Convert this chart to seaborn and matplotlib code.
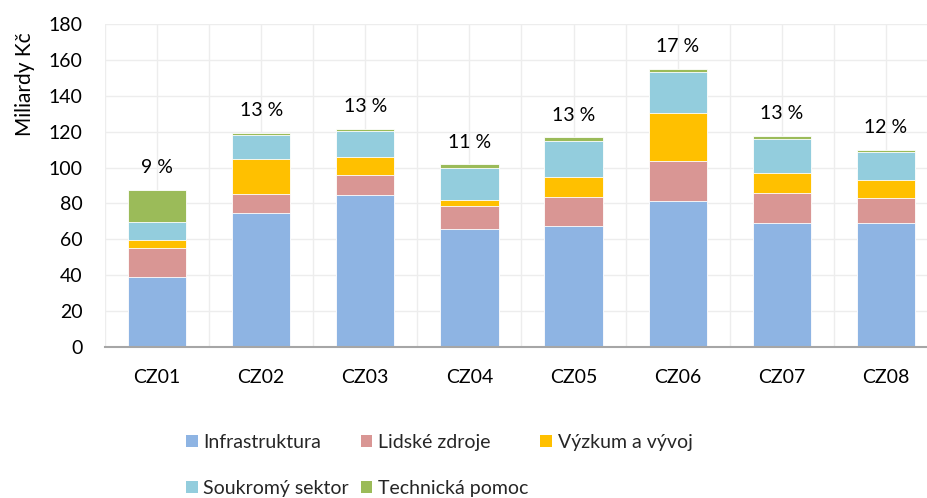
import matplotlib
matplotlib.use('agg')
from matplotlib import pyplot as plt
from matplotlib.patches import Patch
import seaborn as sns
import numpy as np
import pandas as pd

regions = ['CZ01', 'CZ02', 'CZ03', 'CZ04', 'CZ05', 'CZ06', 'CZ07', 'CZ08']
infrastruktura = [39.2, 74.5, 84.6, 65.8, 67.3, 81.6, 69.3, 69.3]
lidske_zdroje = [16.1, 10.6, 11.3, 13.0, 16.1, 21.9, 16.4, 13.8]
vyzkum_a_vyvoj = [4.5, 19.5, 9.8, 3.3, 11.4, 26.8, 11.5, 9.8]
soukromy_sektor = [9.9, 13.7, 14.5, 17.8, 20.2, 22.8, 18.8, 15.6]
technicka_pomoc = [17.8, 1.0, 1.5, 1.9, 1.9, 1.9, 1.8, 1.5]
percent_labels = ['9 %', '13 %', '13 %', '11 %', '13 %', '17 %', '13 %', '12 %']

series_names = ['Infrastruktura', 'Lidské zdroje', 'Výzkum a vývoj',
                'Soukromý sektor', 'Technická pomoc']
series_values = [infrastruktura, lidske_zdroje, vyzkum_a_vyvoj,
                 soukromy_sektor, technicka_pomoc]
colors = ['#8EB4E3', '#D99694', '#FFC000', '#93CDDD', '#9BBB59']

sns.set_theme(style='white')
plt.rcParams['font.family'] = ['Lato', 'DejaVu Sans']

fig = plt.figure(figsize=(9.28, 4.98), dpi=100)
ax = fig.add_axes([105 / 928, 1 - 347 / 498, 833 / 928, 323 / 498])

# stacked bars: draw cumulative sums from the top layer down
df = pd.DataFrame(dict(zip(series_names, series_values)), index=regions)
cum = df.cumsum(axis=1)
for name, color in reversed(list(zip(series_names, colors))):
    sns.barplot(x=regions, y=cum[name].values, order=regions, color=color,
                width=0.56, edgecolor='white', linewidth=0.6, ax=ax,
                saturation=1, zorder=3)

totals = cum[series_names[-1]].values
for i, (tot, lab) in enumerate(zip(totals, percent_labels)):
    ax.annotate(lab, (i, tot), xytext=(0, 16), textcoords='offset points',
                ha='center', va='center', fontsize=14, color='#000000')

ax.set_xlim(-0.5, 7.5)
ax.set_ylim(0, 180)
ax.set_yticks(np.arange(0, 181, 20))
ax.set_xticks(np.arange(-0.5, 8, 0.5), minor=True)
ax.grid(True, which='both', axis='x', color='#EDEDED', lw=1, zorder=0)
ax.grid(True, which='major', axis='y', color='#EDEDED', lw=1, zorder=0)
ax.set_axisbelow(True)
for s in ['top', 'right', 'left']:
    ax.spines[s].set_visible(False)
ax.spines['bottom'].set_color('#A6A6A6')
ax.spines['bottom'].set_linewidth(1.5)
ax.spines['bottom'].set_zorder(5)
ax.tick_params(axis='both', which='both', length=0, labelsize=14,
               colors='#000000')
ax.tick_params(axis='x', pad=16)
ax.tick_params(axis='y', pad=16)
ax.set_xlabel('')
ax.set_ylabel('')
fig.text(25 / 928, 1 - 84 / 498, 'Miliardy Kč', rotation=90, fontsize=15,
         ha='center', va='center', color='#000000')

# legend filled column-wise -> reorder so rows read in series order
order = [0, 3, 1, 4, 2]
handles = [Patch(facecolor=colors[i], edgecolor='none') for i in order]
labels = [series_names[i] for i in order]
fig.legend(handles, labels, loc='upper left', ncol=3,
           bbox_to_anchor=(186 / 928, 1 - 434 / 498), frameon=False,
           fontsize=14, handlelength=0.6, handleheight=0.6,
           handletextpad=0.3, columnspacing=0.6, labelspacing=1.5,
           borderpad=0, borderaxespad=0)

fig.savefig('out.png', dpi=100)
plt.close(fig)
